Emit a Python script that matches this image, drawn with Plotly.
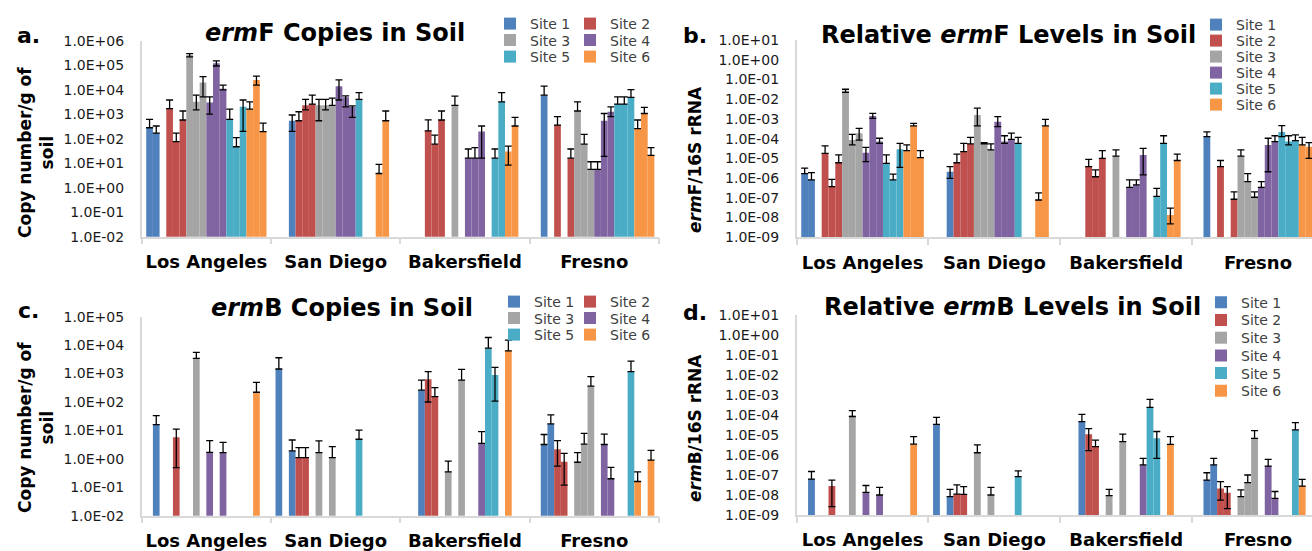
import plotly.graph_objects as go

N = None
CITIES = ["Los Angeles", "San Diego", "Bakersfield", "Fresno"]
SITES = ["Site 1", "Site 2", "Site 3", "Site 4", "Site 5", "Site 6"]
COLORS = ["#4F81BD", "#C0504D", "#A5A5A5", "#8064A2", "#4BACC6", "#F79646"]
REPS = 3

# ---- Panel a: ermF copies / g soil (18 bars per city = 6 sites x 3 replicates)
A_VAL = [
    [2.8e2, 1.7e2, N, 1.7e3, 76, 5.8e2, 2.6e5, 3.2e3, 1.95e4, 3.0e3, 1.2e5, 1.1e4, 6.2e2, 47, 2.0e3, 1.6e3, 2.5e4, 1.95e2],
    [N, N, 5.4e2, 5.4e2, 2.3e3, 2.6e3, 2.3e3, 2.3e3, 2.3e3, 1.4e4, 4.9e3, 2.0e3, 4.0e3, N, N, 3.8, 5.4e2, N],
    [N, N, N, 2.1e2, 60, 5.8e2, N, 2.3e3, N, 16, 16, 1.95e2, N, 16, 3.2e3, 30, 3.3e2, N],
    [N, 6.0e3, N, 3.6e2, N, 16, 1.35e3, 60, 5.6, 5.6, 5.4e2, 1.26e3, 2.6e3, 2.6e3, 4.9e3, 2.6e2, 1.07e3, 21],
]
A_HI = [
    [6.2e2, 3.3e2, N, 3.8e3, 1.7e2, 1.35e3, 3.0e5, 6.0e3, 3.4e4, 5.1e3, 1.5e5, 1.55e4, 1.6e3, 1.1e2, 3.8e3, 3.2e3, 3.6e4, 4.3e2],
    [N, N, 9.3e2, 1.26e3, 4.0e3, 6.0e3, 4.0e3, 4.0e3, 4.5e3, 2.5e4, 5.6e3, 2.2e3, 7.6e3, N, N, 8.9, 1.35e3, N],
    [N, N, N, 5.9e2, 1.4e2, 1.35e3, N, 5.5e3, N, 38, 43, 3.3e2, N, 38, 7.6e3, 50, 7.4e2, N],
    [N, 1.4e4, N, 7.9e2, N, 38, 3.2e3, 1.5e2, 11.5, 11.5, 1.07e3, 2.0e3, 5.1e3, 5.1e3, 1.0e4, 5.8e2, 1.9e3, 43],
]
A_LO = [
    [N, N, N, N, N, N, 2.2e5, 1.5e3, 5.1e3, 1.0e3, 9.3e4, 9.8e3, N, N, 2.0e2, N, 1.55e4, N],
    [N, N, 2.0e2, N, 1.5e3, N, 5.4e2, 1.5e3, N, 3.8e3, 2.0e3, 7.4e2, N, N, N, N, N, N],
    [N, N, N, N, N, N, N, N, N, N, N, 16, N, N, N, 8.3, N, N],
    [N, N, N, N, N, N, N, N, N, N, 19, 7.9e2, N, N, N, N, N, N],
]

# ---- Panel b: ermF / 16S rRNA
B_VAL = [
    [1.7e-6, 8.1e-7, N, 1.8e-5, 3.7e-7, 6.0e-6, 2.7e-2, 8.5e-5, 1.9e-4, 1.95e-5, 1.4e-3, 7.1e-5, 5.6e-6, 8.1e-7, 2.9e-5, 2.5e-5, 4.4e-4, 1.1e-5],
    [N, N, 2.1e-6, 6.0e-6, 2.2e-5, 5.4e-5, 1.6e-3, 5.4e-5, 2.7e-5, 7.2e-4, 7.1e-5, 9.3e-5, 5.8e-5, N, N, 7.8e-8, 4.4e-4, N],
    [N, N, N, 3.8e-6, 1.17e-6, 1.0e-5, N, 1.3e-5, N, 3.4e-7, 4.5e-7, 1.5e-5, N, 1.2e-7, 5.8e-5, 1.35e-8, 7.8e-6, N],
    [N, 1.26e-4, N, 3.8e-6, N, 8.5e-8, 1.3e-5, 6.6e-7, 1.07e-7, 3.4e-7, 4.8e-5, 7.1e-5, 2.2e-4, 7.1e-5, 7.9e-5, 4.8e-5, 3.9e-5, 5.0e-6],
]
B_HI = [
    [3.2e-6, 1.9e-6, N, 4.3e-5, 8.7e-7, 1.5e-5, 3.2e-2, 1.66e-4, 3.3e-4, 3.6e-5, 1.9e-3, 1.05e-4, 1.5e-5, 1.6e-6, 5.8e-5, 4.8e-5, 6.0e-4, 2.5e-5],
    [N, N, 3.8e-6, 1.66e-5, 5.8e-5, 1.17e-4, 3.5e-3, 6.3e-5, 5.4e-5, 1.3e-3, 1.4e-4, 1.9e-4, 1.17e-4, N, N, 1.8e-7, 9.5e-4, N],
    [N, N, N, 8.9e-6, 2.6e-6, 2.5e-5, N, 2.7e-5, N, 8.1e-7, 8.1e-7, 3.2e-5, N, 3.0e-7, 1.4e-4, 3.0e-8, 1.66e-5, N],
    [N, 2.2e-4, N, 7.8e-6, N, 2.0e-7, 2.7e-5, 1.7e-6, 2.0e-7, 6.6e-7, 1.05e-4, 1.4e-4, 4.6e-4, 1.4e-4, 1.55e-4, 1.17e-4, 6.3e-5, 1.2e-5],
]
B_LO = [
    [N, N, N, N, N, N, 2.2e-2, 4.8e-5, 8.5e-5, 6.8e-6, 1.07e-3, 5.8e-5, N, N, 3.5e-6, N, N, N],
    [N, N, 9.8e-7, N, N, N, 4.4e-4, N, N, 4.1e-4, 5.8e-5, N, N, N, N, N, N, N],
    [N, N, N, N, N, N, N, N, N, N, N, 1.45e-6, N, N, N, 4.8e-9, N, N],
    [N, N, N, N, N, N, N, N, N, N, 2.1e-6, N, 1.26e-4, 4.8e-5, N, N, 1.0e-5, N],
]

# ---- Panel c: ermB copies / g soil
C_VAL = [
    [N, 16, N, N, 5.8, N, N, 3.4e3, N, 1.7, N, 1.66, N, N, N, N, 2.2e2, N],
    [1.45e3, N, 1.9, 1.1, 1.1, N, 1.66, N, 1.1, N, N, N, 4.9, N, N, N, N, N],
    [N, N, 2.6e2, 6.3e2, 1.55e2, N, 0.35, N, 5.9e2, N, N, 3.5, 7.8e3, 8.9e2, N, 6.3e3, N, N],
    [N, 3.2, 17, 2.2, 0.79, N, 0.76, 3.3, 3.6e2, N, 3.2, 0.2, N, N, 1.17e3, 0.16, N, 0.91],
]
C_HI = [
    [N, 33, N, N, 11.2, N, N, 5.6e3, N, 4.4, N, 3.8, N, N, N, N, 4.9e2, N],
    [3.6e3, N, 4.6, 2.5, 2.5, N, 4.3, N, 2.7, N, N, N, 10.2, N, N, N, N, N],
    [N, N, 5.9e2, 1.17e3, 3.2e2, N, 0.83, N, 1.4e3, N, N, 9.1, 1.86e4, 1.66e3, N, 1.5e4, N, N],
    [N, 7.2, 35, 4.4, 1.55, N, 1.66, 7.9, 7.8e2, N, 7.4, 0.5, N, N, 2.75e3, 0.35, N, 2.0],
]
C_LO = [
    [N, N, N, N, 0.49, N, N, N, N, N, N, N, N, N, N, N, N, N],
    [N] * 18,
    [N, N, N, 1.0e2, N, N, N, N, N, N, N, N, N, 1.07e2, N, N, N, N],
    [N, N, N, 0.56, 0.12, N, N, N, N, N, N, N, N, N, N, N, N, N],
]

# ---- Panel d: ermB / 16S rRNA
D_VAL = [
    [N, 6.3e-8, N, N, 2.8e-8, N, N, 1.0e-4, N, 1.35e-8, N, 1.0e-8, N, N, N, N, 3.5e-6, N],
    [3.4e-5, N, 8.3e-9, 1.1e-8, 1.07e-8, N, 1.3e-6, N, 1.0e-8, N, N, N, 8.3e-8, N, N, N, N, N],
    [N, N, 4.7e-5, 1.1e-5, 2.6e-6, N, 9.3e-9, N, 4.7e-6, N, N, 3.2e-7, 2.4e-4, 6.8e-6, N, 3.4e-6, N, N],
    [N, 5.6e-8, 3.2e-7, 2.1e-8, 1.3e-8, N, 8.3e-9, 4.2e-8, 6.8e-6, N, 2.8e-7, 6.8e-9, N, N, 1.8e-5, 2.8e-8, N, N],
]
D_HI = [
    [N, 1.5e-7, N, N, 5.6e-8, N, N, 1.66e-4, N, 3.0e-8, N, 2.4e-8, N, N, N, N, 8.3e-6, N],
    [7.6e-5, N, 1.9e-8, 3.2e-8, 2.6e-8, N, 3.2e-6, N, 2.4e-8, N, N, N, 1.6e-7, N, N, N, N, N],
    [N, N, 1.07e-4, 2.1e-5, 5.6e-6, N, 1.9e-8, N, 1.1e-5, N, N, 6.8e-7, 6.0e-4, 1.5e-5, N, 8.3e-6, N, N],
    [N, 1.3e-7, 6.8e-7, 4.7e-8, 2.6e-8, N, 1.8e-8, 1.0e-7, 1.66e-5, N, 6.0e-7, 1.5e-8, N, N, 4.2e-5, 6.0e-8, N, N],
]
D_LO = [
    [N, N, N, N, 2.6e-9, N, N, 8.3e-5, N, N, N, N, N, N, N, N, N, N],
    [N] * 18,
    [N, N, N, 1.66e-6, N, N, N, N, N, N, N, N, N, 6.8e-7, N, N, N, N],
    [N, N, N, 5.6e-9, 2.1e-9, N, N, N, N, N, N, N, N, N, N, N, N, N],
]

FONT = "DejaVu Sans"
W, H = 1312, 551

# legend entry anchors (text start x, row centre y) in pixels, per panel and site
LEG_A = [(532, 22), (612, 22), (532, 38.5), (612, 38.5), (532, 55), (612, 55)]
LEG_B = [(1238, 23 + 16 * i) for i in range(6)]
LEG_C = [(536, 300), (612, 300), (536, 316.5), (612, 316.5), (536, 333), (612, 333)]
LEG_D = [(1243, 300.7 + 17.7 * i) for i in range(6)]

PANELS = [
    dict(val=A_VAL, hi=A_HI, lo=A_LO, ax="", dec=(-2, 6), xr=3.5,
         dom_x=(0.1080, 0.5022), dom_y=(0.5704, 0.9261), leg=LEG_A),
    dict(val=B_VAL, hi=B_HI, lo=B_LO, ax="2", dec=(-9, 1), xr=3.41,
         dom_x=(0.6072, 1.0), dom_y=(0.5693, 0.9274), leg=LEG_B),
    dict(val=C_VAL, hi=C_HI, lo=C_LO, ax="3", dec=(-2, 5), xr=3.5,
         dom_x=(0.1080, 0.5022), dom_y=(0.0640, 0.4252), leg=LEG_C),
    dict(val=D_VAL, hi=D_HI, lo=D_LO, ax="4", dec=(-9, 1), xr=3.41,
         dom_x=(0.6072, 1.0), dom_y=(0.0653, 0.4283), leg=LEG_D),
]


def tick_label(e):
    return "1.0E%+03d" % e


def px(x):
    return x / W


def py(y):
    return 1 - y / H


leg_font = dict(family=FONT, size=14, color="#404040")

fig = go.Figure()
layout = {}
leg_count = 0
for p in PANELS:
    for s in range(6):
        leg_count += 1
        leg_name = "legend" if leg_count == 1 else "legend%d" % leg_count
        tx, ty = p["leg"][s]
        layout[leg_name] = dict(
            x=px(tx - 42), y=py(ty - 14), xanchor="left", yanchor="top",
            orientation="v", font=leg_font, bgcolor="rgba(0,0,0,0)",
            itemwidth=30, itemclick=False, itemdoubleclick=False,
        )
        for r in range(REPS):
            k = s * REPS + r
            ys, plus, minus = [], [], []
            for c in range(len(CITIES)):
                v = p["val"][c][k]
                h = p["hi"][c][k]
                lo = p["lo"][c][k]
                ys.append(v)
                plus.append((h - v) if (v is not None and h is not None) else 0)
                minus.append((v - lo) if (v is not None and lo is not None) else 0)
            fig.add_trace(go.Bar(
                x=CITIES, y=ys, name=SITES[s],
                marker=dict(color=COLORS[s], line=dict(width=0)),
                error_y=dict(type="data", symmetric=False, array=plus, arrayminus=minus,
                             color="black", thickness=1.3, width=3.5),
                xaxis="x" + p["ax"], yaxis="y" + p["ax"],
                showlegend=(r == 0), legend=leg_name, legendgroup=p["ax"] + SITES[s],
            ))
    lo_d, hi_d = p["dec"]
    exps = list(range(lo_d, hi_d + 1))
    layout["xaxis" + p["ax"]] = dict(
        domain=list(p["dom_x"]), anchor="y" + p["ax"], type="category",
        categoryorder="array", categoryarray=CITIES, range=[-0.5, p["xr"]],
        showline=True, linecolor="#D9D9D9", linewidth=1.5,
        ticks="outside", tickson="boundaries", ticklen=6, tickcolor="#D9D9D9", tickwidth=1.5,
        tickfont=dict(family=FONT, size=18, color="black", weight="bold"), tickangle=0,
        ticklabelstandoff=8, showgrid=False, zeroline=False, fixedrange=True, automargin=False,
    )
    layout["yaxis" + p["ax"]] = dict(
        domain=list(p["dom_y"]), anchor="x" + p["ax"], type="log",
        range=[lo_d, hi_d], tickvals=[10 ** e for e in exps],
        ticktext=[tick_label(e) for e in exps],
        showline=True, linecolor="#D9D9D9", linewidth=1.5, ticks="",
        tickfont=dict(family=FONT, size=14, color="#1a1a1a"),
        ticklabelstandoff=13, showgrid=False, zeroline=False, fixedrange=True, automargin=False,
    )

title_font = dict(family=FONT, size=24, color="black")
letter_font = dict(family=FONT, size=22, color="black")
ytitle_font = dict(family=FONT, size=17, color="black")

annotations = [
    dict(text="<b><i>erm</i>F Copies in Soil</b>", x=px(335), y=py(33), font=title_font),
    dict(text="<b>Relative <i>erm</i>F Levels in Soil</b>", x=px(1008), y=py(35), font=title_font),
    dict(text="<b><i>erm</i>B Copies in Soil</b>", x=px(342), y=py(308), font=title_font),
    dict(text="<b>Relative <i>erm</i>B Levels in Soil</b>", x=px(1012), y=py(307), font=title_font),
    dict(text="<b>a.</b>", x=px(28), y=py(35), font=letter_font),
    dict(text="<b>b.</b>", x=px(695), y=py(35), font=letter_font),
    dict(text="<b>c.</b>", x=px(28), y=py(311), font=letter_font),
    dict(text="<b>d.</b>", x=px(695), y=py(312), font=letter_font),
    dict(text="<b>Copy number/g of<br>soil</b>", x=px(36), y=py(153), textangle=-90, font=ytitle_font),
    dict(text="<b>Copy number/g of<br>soil</b>", x=px(36), y=py(428), textangle=-90, font=ytitle_font),
    dict(text="<b><i>erm</i>F/16S rRNA</b>", x=px(695), y=py(160), textangle=-90, font=ytitle_font),
    dict(text="<b><i>erm</i>B/16S rRNA</b>", x=px(695), y=py(428), textangle=-90, font=ytitle_font),
]
for a in annotations:
    a.update(xref="paper", yref="paper", showarrow=False, xanchor="center", yanchor="middle")

fig.update_layout(
    width=W, height=H, autosize=False,
    margin=dict(l=0, r=0, t=0, b=0, pad=0),
    paper_bgcolor="white", plot_bgcolor="white",
    barmode="group", bargap=0.07, bargroupgap=0,
    annotations=annotations, **layout,
)

fig.write_html(
    "out.html",
    config={"displayModeBar": False, "staticPlot": False},
    post_script="document.body.style.margin='0';document.body.style.overflow='hidden';",
)
